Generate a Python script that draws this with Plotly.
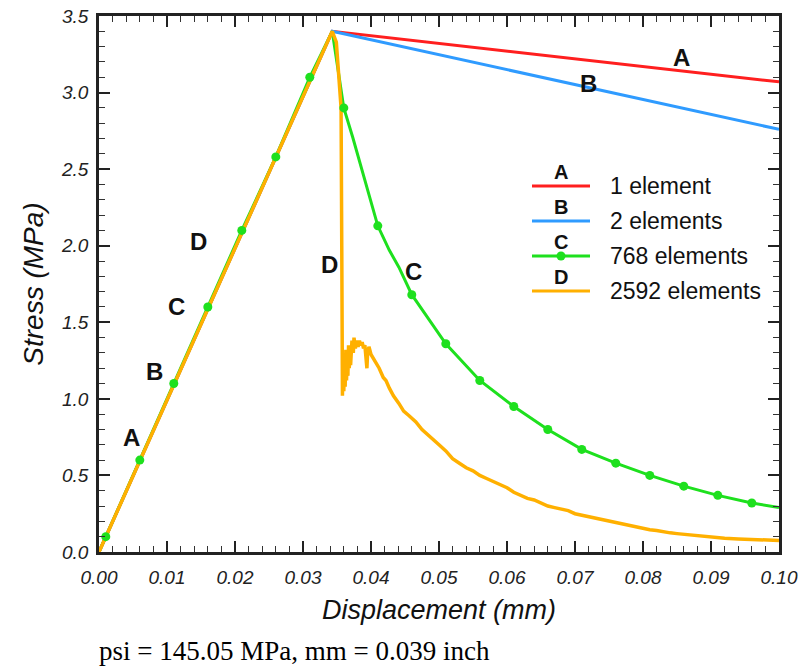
import plotly.graph_objects as go

# ---- data: stress (MPa) vs displacement (mm) ----
peak_x = 0.0343
peak_y = 3.40

# A: 1 element
a_x = [0.0, peak_x, 0.100]
a_y = [0.0, peak_y, 3.07]

# B: 2 elements
b_x = [0.0, peak_x, 0.100]
b_y = [0.0, peak_y, 2.76]

# C: 768 elements
c_x = [0.0, 0.001, 0.006, 0.011, 0.016, 0.021, 0.026, 0.031, 0.0343,
       0.036, 0.0373, 0.0388, 0.040, 0.041, 0.0427, 0.0441, 0.046,
       0.051, 0.056, 0.061, 0.066, 0.071, 0.076, 0.081, 0.086, 0.091,
       0.096, 0.100]
c_y = [0.0, 0.10, 0.60, 1.10, 1.60, 2.10, 2.58, 3.10, 3.40,
       2.90, 2.71, 2.48, 2.30, 2.13, 1.97, 1.86, 1.68,
       1.36, 1.12, 0.95, 0.80, 0.67, 0.58, 0.50, 0.43, 0.37,
       0.32, 0.29]
c_mark_x = [0.001, 0.006, 0.011, 0.016, 0.021, 0.026, 0.031, 0.036, 0.041,
            0.046, 0.051, 0.056, 0.061, 0.066, 0.071, 0.076, 0.081, 0.086,
            0.091, 0.096]

# D: 2592 elements
d_x = [0.0, 0.0343, 0.0349, 0.0353, 0.0356, 0.0357, 0.0358, 0.0358,
       0.0359, 0.0360, 0.0361, 0.0362, 0.0363, 0.0364, 0.0365, 0.0366,
       0.0367, 0.0368, 0.0369, 0.0370, 0.0372, 0.0374, 0.0375, 0.0377,
       0.0379, 0.0381, 0.0383, 0.0385, 0.0387, 0.0389, 0.0391, 0.0393,
       0.0394, 0.0395, 0.0397, 0.0400, 0.0403, 0.0407, 0.0412, 0.0418,
       0.0422, 0.0427, 0.0433, 0.0441, 0.0448, 0.0456, 0.0466, 0.0475,
       0.0483, 0.0490, 0.0500, 0.0510, 0.0520, 0.0530, 0.0540, 0.0550,
       0.0560, 0.0570, 0.0580, 0.0590, 0.0600, 0.0610, 0.0620, 0.0630,
       0.0640, 0.0650, 0.0660, 0.0670, 0.0680, 0.0690, 0.0700, 0.0710,
       0.0720, 0.0730, 0.0740, 0.0750, 0.0760, 0.0770, 0.0780, 0.0790,
       0.0800, 0.0810, 0.0820, 0.0830, 0.0840, 0.0850, 0.0860, 0.0870,
       0.0880, 0.0890, 0.0900, 0.0920, 0.0940, 0.0960, 0.0980, 0.1000]
d_y = [0.0, 3.40, 3.33, 3.10, 2.90, 2.00, 1.40, 1.02,
       1.30, 1.05, 1.25, 1.08, 1.32, 1.12, 1.28, 1.15,
       1.35, 1.20, 1.30, 1.22, 1.38, 1.30, 1.40, 1.33,
       1.38, 1.34, 1.38, 1.35, 1.37, 1.33, 1.35, 1.25,
       1.20, 1.30, 1.34, 1.29, 1.27, 1.24, 1.20, 1.14,
       1.12, 1.07, 1.02, 0.97, 0.92, 0.89, 0.85, 0.80,
       0.77, 0.74, 0.70, 0.66, 0.61, 0.58, 0.55, 0.53,
       0.50, 0.48, 0.46, 0.44, 0.42, 0.39, 0.37, 0.35,
       0.34, 0.32, 0.30, 0.29, 0.28, 0.27, 0.25, 0.24,
       0.23, 0.22, 0.21, 0.20, 0.19, 0.18, 0.17, 0.16,
       0.15, 0.145, 0.14, 0.13, 0.125, 0.12, 0.115, 0.11,
       0.105, 0.10, 0.095, 0.09, 0.085, 0.08, 0.075, 0.075]

series_letters = ["A", "B", "C", "D"]
series_names = ["1 element", "2 elements", "768 elements", "2592 elements"]

# curve letter labels (x, y in data units)
label_text = ["A", "B", "C", "D", "D", "C", "A", "B"]
label_x = [0.0048, 0.0082, 0.0114, 0.0147, 0.0339, 0.0463, 0.0856, 0.0720]
label_y = [0.75, 1.18, 1.60, 2.03, 1.88, 1.83, 3.23, 3.06]

x_ticks = [0.00, 0.01, 0.02, 0.03, 0.04, 0.05, 0.06, 0.07, 0.08, 0.09, 0.10]
y_ticks = [0.0, 0.5, 1.0, 1.5, 2.0, 2.5, 3.0, 3.5]

RED = "#ff1f1f"
BLUE = "#2f9bff"
GREEN = "#1ee01e"
ORANGE = "#ffb000"
colors = [RED, BLUE, GREEN, ORANGE]

fig = go.Figure()
fig.add_trace(go.Scatter(x=a_x, y=a_y, mode="lines",
                         line=dict(color=RED, width=3)))
fig.add_trace(go.Scatter(x=b_x, y=b_y, mode="lines",
                         line=dict(color=BLUE, width=3)))
fig.add_trace(go.Scatter(x=c_x, y=c_y, mode="lines",
                         line=dict(color=GREEN, width=3)))
fig.add_trace(go.Scatter(x=d_x, y=d_y, mode="lines",
                         line=dict(color=ORANGE, width=3.5)))

# C markers sit on top of every line
mark_set = {round(v, 4) for v in c_mark_x}
cm_x = [x for x in c_x if round(x, 4) in mark_set]
cm_y = [y for x, y in zip(c_x, c_y) if round(x, 4) in mark_set]
fig.add_trace(go.Scatter(x=cm_x, y=cm_y, mode="markers",
                         marker=dict(color=GREEN, size=9)))

# letter labels on the curves
for t, x, y in zip(label_text, label_x, label_y):
    fig.add_annotation(x=x, y=y, text=t, showarrow=False,
                       xanchor="center", yanchor="middle",
                       font=dict(family="Liberation Sans, Arial", size=24,
                                 color="#111", weight="bold"))

# plot area in pixels
L, R, T, B = 99, 779, 16, 552


def px(xp):
    return (xp - L) / (R - L)


def py(yp):
    return (B - yp) / (B - T)


# custom legend: letter above a line sample, text to the right
leg_rows = [186, 221, 256, 291]
for i, yy in enumerate(leg_rows):
    fig.add_shape(type="line", xref="paper", yref="paper",
                  x0=px(532), x1=px(590), y0=py(yy), y1=py(yy),
                  line=dict(color=colors[i], width=3))
    fig.add_annotation(xref="paper", yref="paper", x=px(561), y=py(yy - 14),
                       text=series_letters[i], showarrow=False,
                       xanchor="center", yanchor="middle",
                       font=dict(family="Liberation Sans, Arial", size=20,
                                 color="#111", weight="bold"))
    fig.add_annotation(xref="paper", yref="paper", x=px(608), y=py(yy),
                       text=series_names[i], showarrow=False,
                       xanchor="left", yanchor="middle",
                       font=dict(family="Liberation Sans, Arial", size=23,
                                 color="#111"))
    if series_letters[i] == "C":
        fig.add_shape(type="circle", xref="paper", yref="paper",
                      x0=px(556.5), x1=px(565.5), y0=py(yy - 4.5), y1=py(yy + 4.5),
                      fillcolor=GREEN, line=dict(color=GREEN, width=0))

# footnote
fig.add_annotation(xref="paper", yref="paper", x=px(97), y=py(651),
                   xanchor="left", yanchor="middle", showarrow=False,
                   text="psi = 145.05 MPa, mm = 0.039 inch",
                   font=dict(family="Liberation Serif, Times New Roman",
                             size=27, color="#000"))

tick_font = dict(family="Liberation Sans, Arial", size=19, color="#222",
                 style="italic")
axis_common = dict(showline=True, linewidth=2.5, linecolor="#222", mirror="allticks",
                   ticks="inside", ticklen=11, tickwidth=1.5, tickcolor="#222",
                   showgrid=False, zeroline=False, tickfont=tick_font,
                   automargin=False)

fig.update_xaxes(range=[0, 0.1], tickvals=x_ticks,
                 ticktext=[f"{v:.2f}" for v in x_ticks],
                 minor=dict(ticks="inside", ticklen=6, dtick=0.002,
                            tickwidth=1, tickcolor="#333", showgrid=False),
                 title=dict(text="Displacement (mm)", standoff=14,
                            font=dict(family="Liberation Sans, Arial", size=27,
                                      color="#111", style="italic")),
                 ticklabelstandoff=6,
                 **axis_common)
fig.update_yaxes(range=[0, 3.5], tickvals=y_ticks,
                 ticktext=[f"{v:.1f}" for v in y_ticks],
                 minor=dict(ticks="inside", ticklen=6, dtick=0.1,
                            tickwidth=1, tickcolor="#333", showgrid=False),
                 title=dict(text="Stress (MPa)", standoff=10,
                            font=dict(family="Liberation Sans, Arial", size=28,
                                      color="#111", style="italic")),
                 ticklabelstandoff=4,
                 **axis_common)

fig.update_layout(width=804, height=669, showlegend=False,
                  margin=dict(l=L, r=804 - R, t=T, b=669 - B),
                  paper_bgcolor="white", plot_bgcolor="white")

fig.write_html("out.html")
